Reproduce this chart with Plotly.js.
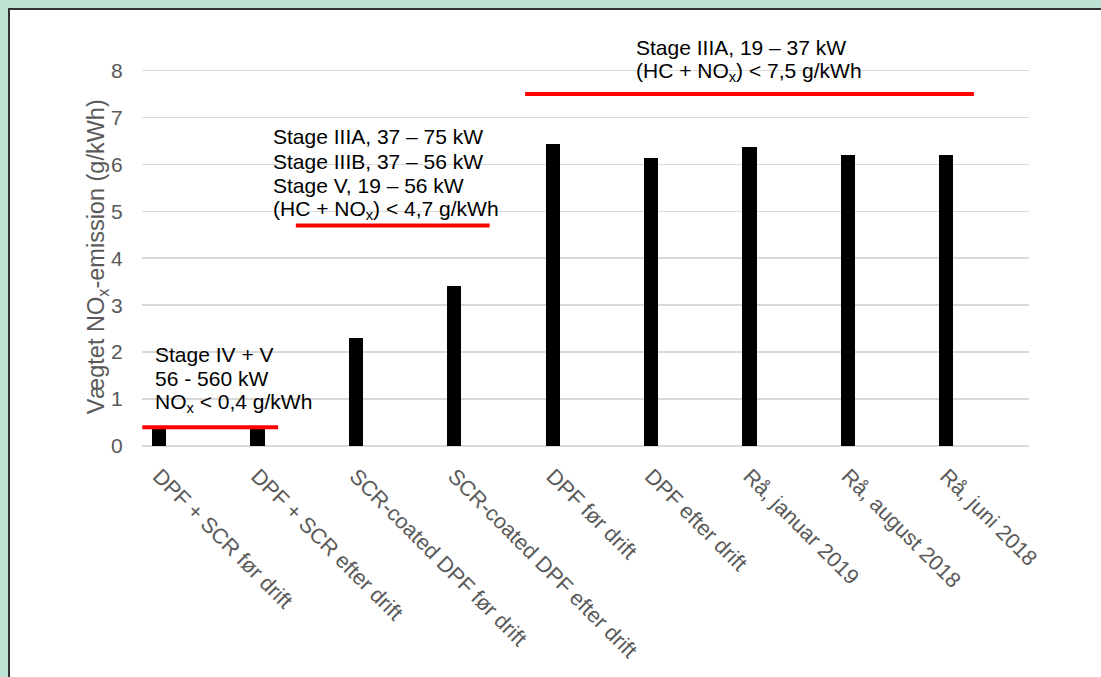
<!DOCTYPE html>
<html>
<head>
<meta charset="utf-8">
<script src="https://cdn.plot.ly/plotly-3.0.1.min.js"></script>
<style>
  html, body { margin: 0; padding: 0; background: #BFE3D3; width: 1101px; height: 677px; overflow: hidden; }
  #frame { position: absolute; left: 8px; top: 8px; width: 1093px; height: 669px;
           border-left: 2px solid #333333; border-top: 2px solid #333333; background: #ffffff; }
  #chart { width: 1091px; height: 667px; }
</style>
</head>
<body>
<div id="frame"><div id="chart"></div></div>
<script>
// Weighted NOx emission per after-treatment / test condition
const categories = [
  "DPF + SCR før drift",
  "DPF + SCR efter drift",
  "SCR-coated DPF før drift",
  "SCR-coated DPF efter drift",
  "DPF før drift",
  "DPF efter drift",
  "Rå, januar 2019",
  "Rå, august 2018",
  "Rå, juni 2018"
];
const noxValues = [0.42, 0.42, 2.30, 3.41, 6.44, 6.14, 6.36, 6.21, 6.21];

// Emission limits (g/kWh) and the text lines explaining each one
const limitValues = [0.4, 4.7, 7.5];
const limitLines = [
  ["Stage IV + V", "56 - 560 kW", "NO<sub>x</sub> < 0,4 g/kWh"],
  ["Stage IIIA, 37 – 75 kW", "Stage IIIB, 37 – 56 kW", "Stage V, 19 – 56 kW", "(HC + NO<sub>x</sub>) < 4,7 g/kWh"],
  ["Stage IIIA, 19 – 37 kW", "(HC + NO<sub>x</sub>) < 7,5 g/kWh"]
];
const yTitle = "Vægtet NO<sub>x</sub>-emission (g/kWh)";

// horizontal extent of each limit line (category-index units)
const limitStart = [-0.17, 1.39, 3.72];
const limitEnd = [1.21, 3.36, 8.28];
// first-line anchor of each text block and the line step (axis units)
const labelX = [-0.06, 1.137, 4.83];
const labelTopY = [1.95, 6.59, 8.50];
const lineStep = 0.522;

const FONT = "Liberation Sans, Arial, sans-serif";

const trace = {
  type: "bar",
  x: categories,
  y: noxValues,
  width: 0.145,
  marker: { color: "#000000", line: { width: 0 } },
  hoverinfo: "x+y"
};

const shapes = limitValues.map((v, i) => ({
  type: "line", xref: "x", yref: "y",
  x0: limitStart[i], x1: limitEnd[i], y0: v, y1: v,
  line: { color: "#FF0000", width: 4 }
}));

const annotations = [];
limitLines.forEach((lines, i) => {
  lines.forEach((t, j) => {
    annotations.push({
      xref: "x", yref: "y", x: labelX[i], y: labelTopY[i] - j * lineStep,
      text: t, showarrow: false, align: "left",
      xanchor: "left", yanchor: "middle",
      font: { family: FONT, size: 21, color: "#000000" }
    });
  });
});
// y-axis title
annotations.push({
  xref: "paper", yref: "y", x: -0.0507, y: 4.02,
  text: yTitle, textangle: -90, showarrow: false,
  xanchor: "center", yanchor: "middle",
  font: { family: FONT, size: 23.5, color: "#595959" }
});

const layout = {
  width: 1091, height: 667,
  margin: { l: 132, r: 72, t: 36.5, b: 231 },
  paper_bgcolor: "#ffffff",
  plot_bgcolor: "#ffffff",
  showlegend: false,
  bargap: 0,
  font: { family: FONT, color: "#595959" },
  xaxis: {
    type: "category",
    range: [-0.173, 8.84],
    tickangle: 45,
    ticks: "outside", ticklen: 8, tickcolor: "rgba(0,0,0,0)",
    tickfont: { size: 21.5, color: "#595959" },
    showgrid: false, showline: false, zeroline: false,
    automargin: false
  },
  yaxis: {
    range: [0, 8.5],
    tickvals: [0, 1, 2, 3, 4, 5, 6, 7, 8],
    ticks: "outside", ticklen: 14, tickcolor: "rgba(0,0,0,0)",
    tickfont: { size: 21, color: "#595959" },
    showgrid: true, gridcolor: "#D9D9D9", gridwidth: 1.5,
    zeroline: true, zerolinecolor: "#D9D9D9", zerolinewidth: 1.5,
    showline: false,
    automargin: false
  },
  shapes: shapes,
  annotations: annotations
};

Plotly.newPlot("chart", [trace], layout, { displayModeBar: false, staticPlot: true });
</script>
</body>
</html>
